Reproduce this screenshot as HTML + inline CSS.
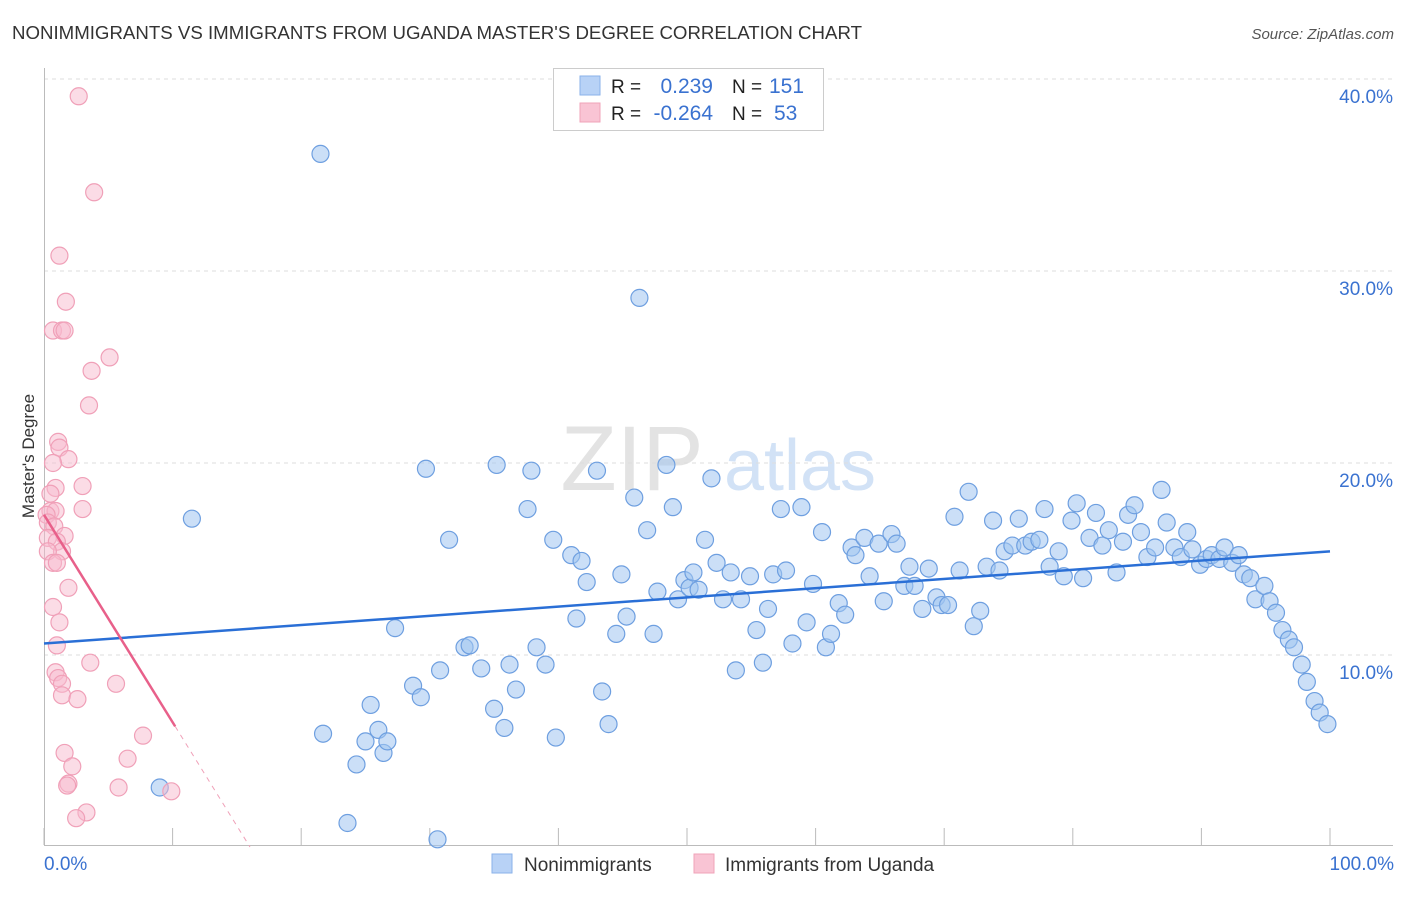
<!DOCTYPE html>
<html><head><meta charset="utf-8"><style>
body{margin:0;background:#fff;font-family:"Liberation Sans",sans-serif;}
svg text{font-family:"Liberation Sans",sans-serif;}
</style></head><body>
<svg id="chart" width="1406" height="892" viewBox="0 0 1406 892" xmlns="http://www.w3.org/2000/svg">
<text x="12" y="39" font-size="18" fill="#333" textLength="850" lengthAdjust="spacingAndGlyphs">NONIMMIGRANTS VS IMMIGRANTS FROM UGANDA MASTER'S DEGREE CORRELATION CHART</text>
<text x="1394" y="39" font-size="15" fill="#555" font-style="italic" text-anchor="end">Source: ZipAtlas.com</text>
<text x="34" y="456" font-size="17" fill="#333" text-anchor="middle" transform="rotate(-90 34 456)">Master's Degree</text>
<g><text x="632" y="490" font-size="92" fill="#ddd" text-anchor="middle" font-family="Liberation Serif" opacity="0.8">ZIP</text><text x="800" y="490" font-size="72" fill="#c8dcf4" text-anchor="middle" opacity="0.8">atlas</text></g>
<g id="grid"></g><g id="axes"></g><g id="marks"></g><g id="trends"></g>
<g>
<rect x="553.5" y="68.5" width="270" height="62" fill="#fff" stroke="#ccc"/>
<rect x="580" y="76" width="20" height="19" fill="#b8d2f6" stroke="#8ab2ea"/>
<rect x="580" y="103" width="20" height="19" fill="#f9c4d4" stroke="#f0a3b9"/>
<text x="611" y="93" font-size="19" fill="#222">R =</text><text x="713" y="93" font-size="21" fill="#3a72d0" text-anchor="end">0.239</text>
<text x="732" y="93" font-size="19" fill="#222">N =</text><text x="769" y="93" font-size="21" fill="#3a72d0">151</text>
<text x="611" y="120" font-size="19" fill="#222">R =</text><text x="713" y="120" font-size="21" fill="#3a72d0" text-anchor="end">-0.264</text>
<text x="732" y="120" font-size="19" fill="#222">N =</text><text x="774" y="120" font-size="21" fill="#3a72d0">53</text>
</g>
<g>
<rect x="492" y="854" width="20" height="19" fill="#b8d2f6" stroke="#8ab2ea"/>
<text x="524" y="871" font-size="19" fill="#333">Nonimmigrants</text>
<rect x="694" y="854" width="20" height="19" fill="#f9c4d4" stroke="#f0a3b9"/>
<text x="725" y="871" font-size="19" fill="#333">Immigrants from Uganda</text>
</g>
</svg>
<script>
const xTicks=[0,10,20,30,40,50,60,70,80,90,100];
const yTicks=[10,20,30,40];
const yTickLabels=["10.0%","20.0%","30.0%","40.0%"];
const blueX=[21.5,46.3,11.5,9.0,23.6,30.6,21.7,24.3,25.0,26.0,26.4,26.7,25.4,27.3,28.7,29.3,29.7,30.8,31.5,32.7,33.1,34.0,35.0,35.2,35.8,36.2,36.7,37.6,37.9,38.3,39.0,39.6,39.8,41.0,41.4,41.8,42.2,43.0,43.4,43.9,44.5,44.9,45.3,45.9,46.9,47.4,47.7,48.4,48.9,49.3,49.8,50.2,50.5,50.9,51.4,51.9,52.3,52.8,53.4,53.8,54.2,54.9,55.4,55.9,56.3,56.7,57.3,57.7,58.2,58.9,59.3,59.8,60.5,60.8,61.2,61.8,62.3,62.8,63.1,63.8,64.2,64.9,65.3,65.9,66.3,66.9,67.3,67.7,68.3,68.8,69.4,69.8,70.3,70.8,71.2,71.9,72.3,72.8,73.3,73.8,74.3,74.7,75.3,75.8,76.3,76.8,77.4,77.8,78.2,78.9,79.3,79.9,80.3,80.8,81.3,81.8,82.3,82.8,83.4,83.9,84.3,84.8,85.3,85.8,86.4,86.9,87.3,87.9,88.4,88.9,89.3,89.9,90.4,90.8,91.4,91.8,92.4,92.9,93.3,93.8,94.2,94.9,95.3,95.8,96.3,96.8,97.2,97.8,98.2,98.8,99.2,99.8];
const blueY=[36.1,28.6,17.1,3.1,1.25,0.4,5.9,4.3,5.5,6.1,4.9,5.5,7.4,11.4,8.4,7.8,19.7,9.2,16.0,10.4,10.5,9.3,7.2,19.9,6.2,9.5,8.2,17.6,19.6,10.4,9.5,16.0,5.7,15.2,11.9,14.9,13.8,19.6,8.1,6.4,11.1,14.2,12.0,18.2,16.5,11.1,13.3,19.9,17.7,12.9,13.9,13.5,14.3,13.4,16.0,19.2,14.8,12.9,14.3,9.2,12.9,14.1,11.3,9.6,12.4,14.2,17.6,14.4,10.6,17.7,11.7,13.7,16.4,10.4,11.1,12.7,12.1,15.6,15.2,16.1,14.1,15.8,12.8,16.3,15.8,13.6,14.6,13.6,12.4,14.5,13.0,12.6,12.6,17.2,14.4,18.5,11.5,12.3,14.6,17.0,14.4,15.4,15.7,17.1,15.7,15.9,16.0,17.6,14.6,15.4,14.1,17.0,17.9,14.0,16.1,17.4,15.7,16.5,14.3,15.9,17.3,17.8,16.4,15.1,15.6,18.6,16.9,15.6,15.1,16.4,15.5,14.7,15.0,15.2,15.0,15.6,14.8,15.2,14.2,14.0,12.9,13.6,12.8,12.2,11.3,10.8,10.4,9.5,8.6,7.6,7.0,6.4];
const pinkX=[2.7,3.9,1.2,1.7,0.7,1.4,1.6,5.1,3.7,3.5,1.1,1.2,1.9,0.7,0.9,3.0,0.5,0.5,0.9,3.0,0.2,0.3,0.8,1.6,0.3,1.0,1.4,0.3,0.7,1.0,1.9,0.7,1.2,1.0,3.6,0.9,1.1,1.4,1.4,2.6,5.6,7.7,1.6,6.5,2.2,1.9,1.8,5.8,9.9,3.3,2.5];
const pinkY=[39.1,34.1,30.8,28.4,26.9,26.9,26.9,25.5,24.8,23.0,21.1,20.8,20.2,20.0,18.7,18.8,18.4,17.5,17.5,17.6,17.3,16.9,16.7,16.2,16.1,15.9,15.4,15.4,14.8,14.8,13.5,12.5,11.7,10.5,9.6,9.1,8.8,8.5,7.9,7.7,8.5,5.8,4.9,4.6,4.2,3.3,3.2,3.1,2.9,1.8,1.5];
const blueTrend=[10.6,15.4];      // values at x=0 and x=100
const pinkTrend=[17.3,6.5];       // values at x=0 and x=10
const pinkSolidEnd=10.2;

const X0=44,X1=1330,Y0=847,PPY=19.2;
const sx=v=>X0+(X1-X0)*v/100;
const sy=v=>Y0-v*PPY;
const NS="http://www.w3.org/2000/svg";
function mk(tag,attrs,parent){const e=document.createElementNS(NS,tag);for(const k in attrs)e.setAttribute(k,attrs[k]);document.getElementById(parent).appendChild(e);return e;}

yTicks.forEach((t,i)=>{
 const l=mk('line',{x1:X0,x2:1393,y1:sy(t),y2:sy(t),stroke:'#ddd','stroke-dasharray':'4 4'},'grid');
 
 
 const tx=mk('text',{x:1393,y:sy(t)+24,'font-size':19,fill:'#3a72d0','text-anchor':'end'},'axes');
 tx.textContent=yTickLabels[i];
 
 
});
const ax=mk('line',{x1:X0,x2:1393,y1:845.5,y2:845.5,stroke:'#bbb'},'axes');


const ay=mk('line',{x1:X0+0.5,x2:X0+0.5,y1:68,y2:845,stroke:'#bbb'},'axes');


xTicks.forEach(t=>{
 const l=mk('line',{x1:sx(t),x2:sx(t),y1:828,y2:845,stroke:'#bbb'},'axes');
 
 
});
const xl0=mk('text',{x:44,y:870,'font-size':19,fill:'#3a72d0'},'axes');xl0.textContent='0.0%';


const xl1=mk('text',{x:1394,y:870,'font-size':19,fill:'#3a72d0','text-anchor':'end'},'axes');xl1.textContent='100.0%';



blueX.forEach((v,i)=>{
 const c=mk('circle',{cx:sx(v),cy:sy(blueY[i]),r:8.5,fill:'rgba(160,196,240,0.55)',stroke:'#6e9fe0','stroke-width':1.2},'marks');
 
 
});
pinkX.forEach((v,i)=>{
 const c=mk('circle',{cx:sx(v),cy:sy(pinkY[i]),r:8.5,fill:'rgba(248,185,205,0.5)',stroke:'#f0a0b8','stroke-width':1.2},'marks');
 
 
});
const bt=mk('line',{x1:sx(0),y1:sy(blueTrend[0]),x2:sx(100),y2:sy(blueTrend[1]),stroke:'#2a6fd6','stroke-width':2.5},'trends');


const slope=(pinkTrend[1]-pinkTrend[0])/10;
const pt=mk('line',{x1:sx(0),y1:sy(pinkTrend[0]),x2:sx(pinkSolidEnd),y2:sy(pinkTrend[0]+slope*pinkSolidEnd),stroke:'#e8608a','stroke-width':2.5},'trends');


const xe=-pinkTrend[0]/slope;
const pd=mk('line',{x1:sx(pinkSolidEnd),y1:sy(pinkTrend[0]+slope*pinkSolidEnd),x2:sx(xe),y2:sy(0),stroke:'#f0a0b8','stroke-width':1,'stroke-dasharray':'5 5'},'trends');


</script>
</body></html>
